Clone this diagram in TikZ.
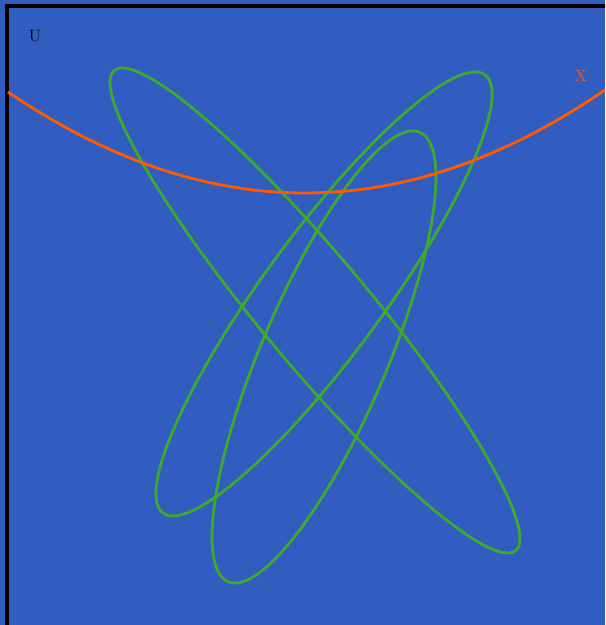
\documentclass[tikz,border=0pt]{standalone}
\usepackage{xcolor}
\usepackage{tikz}
\definecolor{planeblue}{RGB}{50,93,192}
\definecolor{loopgreen}{RGB}{60,170,45}
\definecolor{curveorange}{RGB}{255,90,0}

\begin{document}
\begin{tikzpicture}[x=0.03cm,y=-0.03cm,
    loop/.style={line width=2.4pt,loopgreen},
    curve/.style={line width=2.4pt,curveorange},
    setlabel/.style={font=\fontsize{14}{16}\selectfont,inner sep=0pt}]
  %% background and frame
  \useasboundingbox (0,0) rectangle (605,625);
  \fill[planeblue] (0,0) rectangle (605,625);
  \begin{scope}
    \clip (0,0) rectangle (605,625);
    \draw[line width=2.6pt,black] (7,6) rectangle (640,626.5);

    %% ── the three loops ──
    \draw[loop] (315,310.5) circle [x radius=312.9, y radius=54, rotate=-50.1];
    \draw[loop] (324,294) circle [x radius=271.9, y radius=60, rotate=53.7];
    \draw[loop] (324,357) circle [x radius=244.3, y radius=62.9, rotate=66.9];

    %% ── the curve X ──
    \draw[curve] plot[domain=8:606,samples=80,smooth]
      (\x,{193-11.45*((\x-305)/100)^2});
  \end{scope}

  \node[setlabel,black] (ulabel) at (35,36) {U};
  \node[setlabel,curveorange] (xlabel) at (581,76) {X};
\end{tikzpicture}
\end{document}
